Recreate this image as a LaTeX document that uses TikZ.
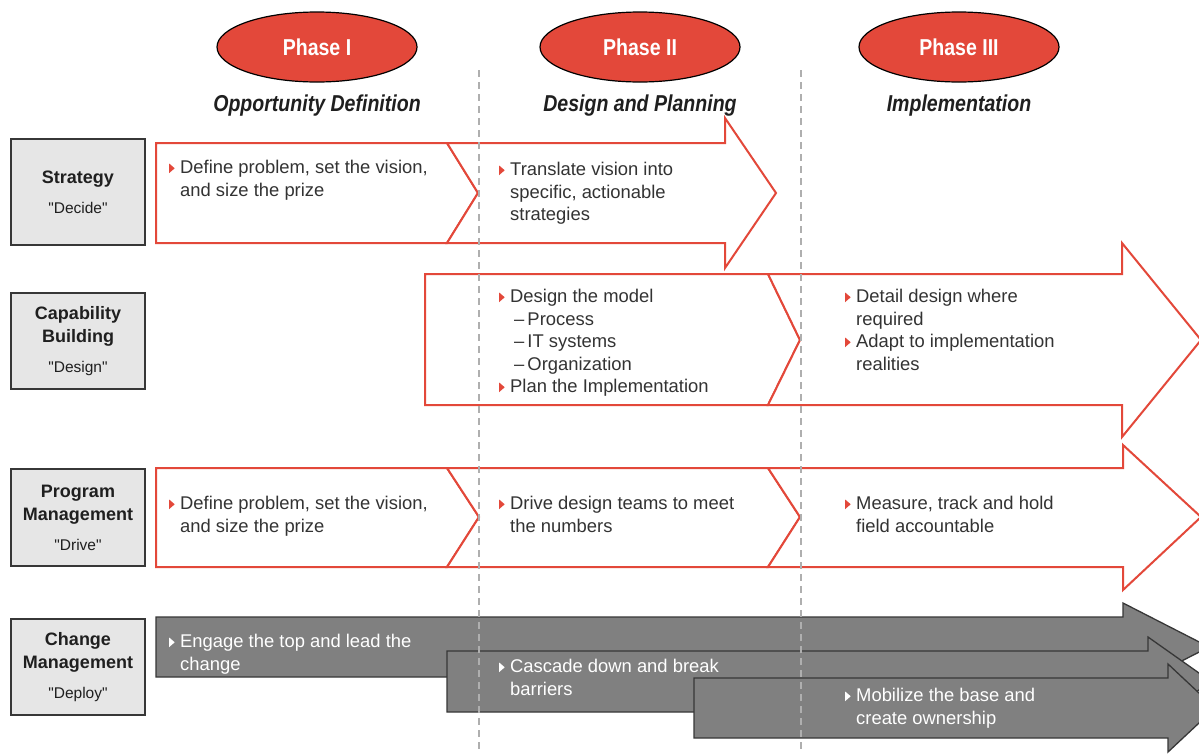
\documentclass[tikz,border=0pt]{standalone}
\usepackage{fontspec}
\setmainfont{Liberation Sans}
\newfontfamily\condfont[FakeStretch=0.85]{Liberation Sans}
\usetikzlibrary{shapes.geometric}
\definecolor{phasered}{RGB}{227, 72, 58}
\definecolor{cc}{RGB}{230, 230, 230}
\definecolor{arrowgray}{RGB}{128, 128, 128}
\definecolor{edgegray}{RGB}{55, 55, 55}
\definecolor{txt}{RGB}{51, 51, 51}
\definecolor{dashgray}{RGB}{175, 175, 175}
\newcommand{\rtri}{\makebox[11pt][l]{\tikz[baseline=0pt] \fill [phasered] (0pt, 0.5pt) -- (0pt, 10pt) -- (5.5pt, 5.25pt) -- cycle;}}
\newcommand{\wtri}{\makebox[11pt][l]{\tikz[baseline=0pt] \fill [white] (0pt, 0.5pt) -- (0pt, 10pt) -- (5.5pt, 5.25pt) -- cycle;}}
\newcommand{\ind}{\hspace*{11pt}}
\newcommand{\subind}{\hspace*{15pt}}
\newcommand{\qq}[1]{\textquotedbl#1\textquotedbl}

\begin{document}
\begin{tikzpicture}[line join=miter,
every node/.style={inner sep=0pt},
redshape/.style={draw=phasered, line width=2pt, fill=white},
grayshape/.style={draw=edgegray, line width=1.3pt, fill=arrowgray},
rowbox/.style={rectangle, minimum width=134pt, fill=cc, draw=edgegray, line width=1.2pt, align=center, text=black!88, font=\fontsize{18}{23}\selectfont},
phase/.style={ellipse, minimum width=200pt, minimum height=70pt, fill=phasered, draw=black, line width=1.2pt, text=white, font=\condfont\bfseries\fontsize{23}{23}\selectfont},
phasetitle/.style={anchor=base, text=black!88, font=\condfont\bfseries\itshape\fontsize{23}{23}\selectfont},
item/.style={anchor=north west, align=left, text=txt, font=\fontsize{18.4}{22.5}\selectfont},
witem/.style={item, text=white}]
\clip (0pt, 0pt) rectangle (1199pt, -753pt);
\fill [white] (0pt, 0pt) rectangle (1199pt, -753pt);

% phases
\node (ph1) [phase] at (317pt, -47pt) {Phase I};
\node (ph2) [phase] at (640pt, -47pt) {Phase II};
\node (ph3) [phase] at (959pt, -47pt) {Phase III};
\node (t1) [phasetitle] at (317pt, -111pt) {Opportunity Definition};
\node (t2) [phasetitle] at (640pt, -111pt) {Design and Planning};
\node (t3) [phasetitle] at (959pt, -111pt) {Implementation};

% row labels
\node (strat) [rowbox, minimum height=106pt] at (78pt, -192pt) {\bfseries Strategy\\[7pt]{\fontsize{15.5}{18}\selectfont \qq{Decide}}};
\node (capab) [rowbox, minimum height=96pt] at (78pt, -341pt) {\bfseries Capability\\\bfseries Building\\[7pt]{\fontsize{15.5}{18}\selectfont \qq{Design}}};
\node (progr) [rowbox, minimum height=97pt] at (78pt, -517.5pt) {\bfseries Program\\\bfseries Management\\[7pt]{\fontsize{15.5}{18}\selectfont \qq{Drive}}};
\node (chang) [rowbox, minimum height=96pt] at (78pt, -667pt) {\bfseries Change\\\bfseries Management\\[7pt]{\fontsize{15.5}{18}\selectfont \qq{Deploy}}};

% strategy row
\draw [redshape] (156pt, -143pt) -- (447pt, -143pt) -- (478pt, -193pt) -- (447pt, -243pt) -- (156pt, -243pt) -- cycle;
\draw [redshape] (447pt, -143pt) -- (725pt, -143pt) -- (725pt, -118pt) -- (776pt, -193pt) -- (725pt, -268pt) -- (725pt, -243pt) -- (447pt, -243pt) -- (478pt, -193pt) -- cycle;

% capability row
\draw [redshape] (425pt, -274pt) -- (768pt, -274pt) -- (800pt, -340pt) -- (768pt, -405pt) -- (425pt, -405pt) -- cycle;
\draw [redshape] (768pt, -274pt) -- (1122pt, -274pt) -- (1122pt, -243pt) -- (1201pt, -340pt) -- (1122pt, -437pt) -- (1122pt, -405pt) -- (768pt, -405pt) -- (800pt, -340pt) -- cycle;

% program row
\draw [redshape] (156pt, -468pt) -- (447pt, -468pt) -- (479pt, -517pt) -- (447pt, -567pt) -- (156pt, -567pt) -- cycle;
\draw [redshape] (447pt, -468pt) -- (768pt, -468pt) -- (800pt, -517pt) -- (768pt, -567pt) -- (447pt, -567pt) -- (479pt, -517pt) -- cycle;
\draw [redshape] (768pt, -468pt) -- (1123pt, -468pt) -- (1123pt, -445pt) -- (1201pt, -517pt) -- (1123pt, -590pt) -- (1123pt, -567pt) -- (768pt, -567pt) -- (800pt, -517pt) -- cycle;

% change row
\draw [grayshape] (156pt, -617pt) -- (1123pt, -617pt) -- (1123pt, -603pt) -- (1209pt, -647pt) -- (1123pt, -691pt) -- (1123pt, -677pt) -- (156pt, -677pt) -- cycle;
\draw [grayshape] (447pt, -651pt) -- (1148pt, -651pt) -- (1148pt, -637pt) -- (1211pt, -681.5pt) -- (1148pt, -726pt) -- (1148pt, -712pt) -- (447pt, -712pt) -- cycle;
\draw [grayshape] (694pt, -678pt) -- (1168pt, -678pt) -- (1168pt, -664pt) -- (1215pt, -708pt) -- (1168pt, -752pt) -- (1168pt, -738pt) -- (694pt, -738pt) -- cycle;

% texts
\node (s1) [item] at (169pt, -160pt) {\rtri Define problem, set the vision,\\\ind and size the prize};
\node (s2) [item] at (499pt, -162pt) {\rtri Translate vision into\\\ind specific, actionable\\\ind strategies};
\node (c1) [item] at (499pt, -289pt) {\rtri Design the model\\\subind –\,Process\\\subind –\,IT systems\\\subind –\,Organization\\\rtri Plan the Implementation};
\node (c2) [item] at (845pt, -289pt) {\rtri Detail design where\\\ind required\\\rtri Adapt to implementation\\\ind realities};
\node (p1) [item] at (169pt, -496pt) {\rtri Define problem, set the vision,\\\ind and size the prize};
\node (p2) [item] at (499pt, -496pt) {\rtri Drive design teams to meet\\\ind the numbers};
\node (p3) [item] at (845pt, -496pt) {\rtri Measure, track and hold\\\ind field accountable};
\node (g1) [witem] at (169pt, -634pt) {\wtri Engage the top and lead the\\\ind change};
\node (g2) [witem] at (499pt, -659pt) {\wtri Cascade down and break\\\ind barriers};
\node (g3) [witem] at (845pt, -688pt) {\wtri Mobilize the base and\\\ind create ownership};

% phase borders
\draw [dashgray, line width=1.2pt, dash pattern=on 7pt off 5pt] (479pt, -70pt) -- (479pt, -753pt);
\draw [dashgray, line width=1.2pt, dash pattern=on 7pt off 5pt] (801pt, -70pt) -- (801pt, -753pt);
\end{tikzpicture}
\end{document}
